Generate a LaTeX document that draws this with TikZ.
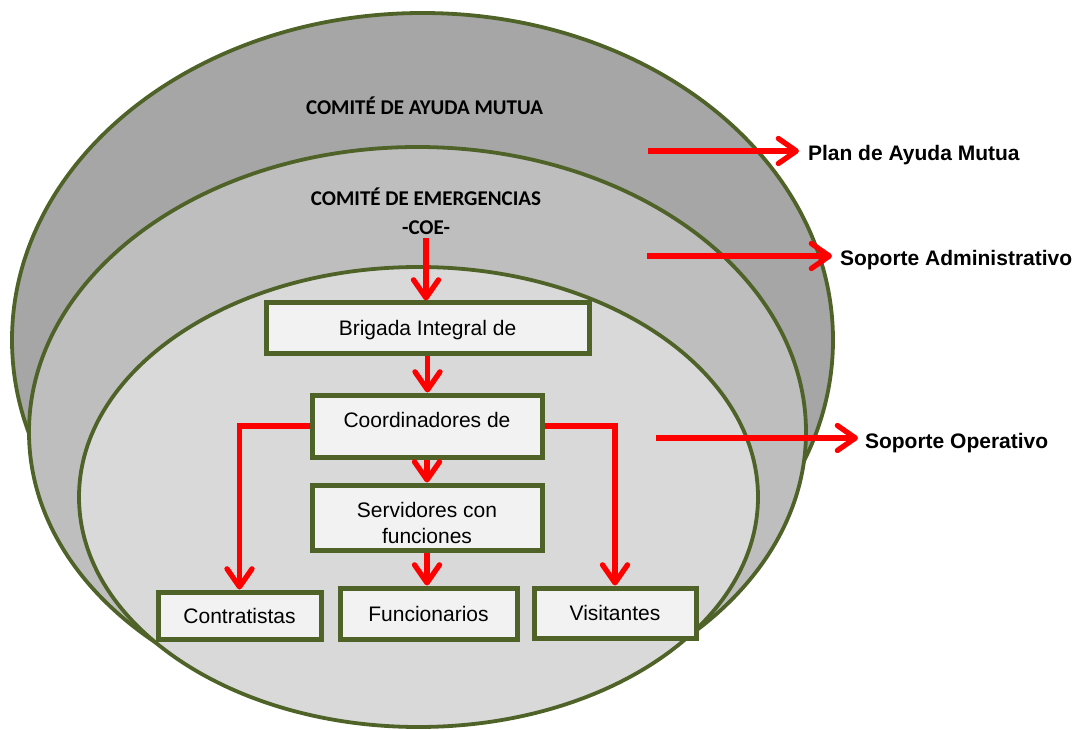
\documentclass[tikz,border=0pt]{standalone}
\usepackage{fontspec}
\setmainfont{Liberation Sans}
\newfontfamily\calibfont{Carlito}
\usetikzlibrary{arrows.meta}
\definecolor{olivebd}{HTML}{4F6228}
\definecolor{gA}{HTML}{A6A6A6}
\definecolor{gB}{HTML}{BEBEBE}
\definecolor{gC}{HTML}{D9D9D9}
\definecolor{boxfill}{HTML}{F2F2F2}
\begin{document}
\begin{tikzpicture}[x=1pt,y=-1pt,
  ring/.style={draw=olivebd,line width=3.8pt},
  box/.style={draw=olivebd,fill=boxfill,line width=5pt,inner sep=0pt,
    font=\fontsize{21}{26}\selectfont},
  onel/.style={text height=15pt,text depth=0pt},
  title/.style={font=\calibfont\bfseries\fontsize{21}{25}\selectfont,
    text height=13.5pt,text depth=0pt,inner sep=0pt},
  lbl/.style={font=\bfseries\fontsize{21}{25}\selectfont,text height=15pt,
    text depth=0pt,inner sep=0pt,outer sep=0pt,anchor=west},
  redarrow/.style={draw=red,line width=5.3pt,
    -{Straight Barb[length=18pt,width=25pt,round]}},
]
\useasboundingbox (0,0) rectangle (1077,730);
% ellipses
\draw[ring, fill=gA] (422.5,340) ellipse [x radius=410.5, y radius=327];
\draw[ring, fill=gB] (417.5,432) ellipse [x radius=388.5, y radius=285];
\draw[ring, fill=gC] (418.5,497) ellipse [x radius=339.5, y radius=230];
% titles
\node[title] (cam) at (424.5,108) {COMITÉ DE AYUDA MUTUA};
\node[title] (coe1) at (426,199) {COMITÉ DE EMERGENCIAS};
\node[title] (coe) at (426,228) {-COE-};
% right labels
\coordinate (p1) at (648,151);
\coordinate (p2) at (647,256);
\coordinate (p3) at (656,438);
\node[lbl] (plan) at (808,153) {Plan de Ayuda Mutua};
\node[lbl] (adm) at (840,258) {Soporte Administrativo};
\node[lbl] (ope) at (865,441) {Soporte Operativo};
\draw[redarrow, shorten >=9pt] (p1) -- (p1 -| plan.west);
\draw[redarrow, shorten >=8pt] (p2) -- (p2 -| adm.west);
\draw[redarrow, shorten >=7pt] (p3) -- (p3 -| ope.west);
% boxes
\node[box, onel, minimum width=323pt, minimum height=50pt] (brig) at (427.5,328) {Brigada Integral de};
\node[box, text height=15pt, text depth=12pt, minimum width=230pt, minimum height=62pt] (coord) at (427,426) {Coordinadores de};
\node[box, minimum width=230pt, minimum height=65pt] (serv) at (427,517.5)
  {\raisebox{-8pt}[\height][\depth]{\begin{tabular}{@{}c@{}}Servidores con\\funciones\end{tabular}}};
\node[box, onel, minimum width=163pt, minimum height=47pt] (contr) at (239.5,615.5) {Contratistas};
\node[box, onel, minimum width=177pt, minimum height=51pt] (func) at (428.5,613.5) {Funcionarios};
\node[box, onel, minimum width=162pt, minimum height=50pt] (visit) at (615,613) {Visitantes};
% connectors
\draw[redarrow, shorten <=3pt] (coe.south) -- (coe.south |- brig.north);
\draw[redarrow] (brig.south) -- (brig.south |- coord.north);
\draw[redarrow] (coord.south) -- (serv.north);
\draw[redarrow] (serv.south) -- (serv.south |- func.north);
\draw[redarrow] (coord.west) -| (contr.north);
\draw[redarrow] (coord.east) -| (visit.north);
\end{tikzpicture}
\end{document}
